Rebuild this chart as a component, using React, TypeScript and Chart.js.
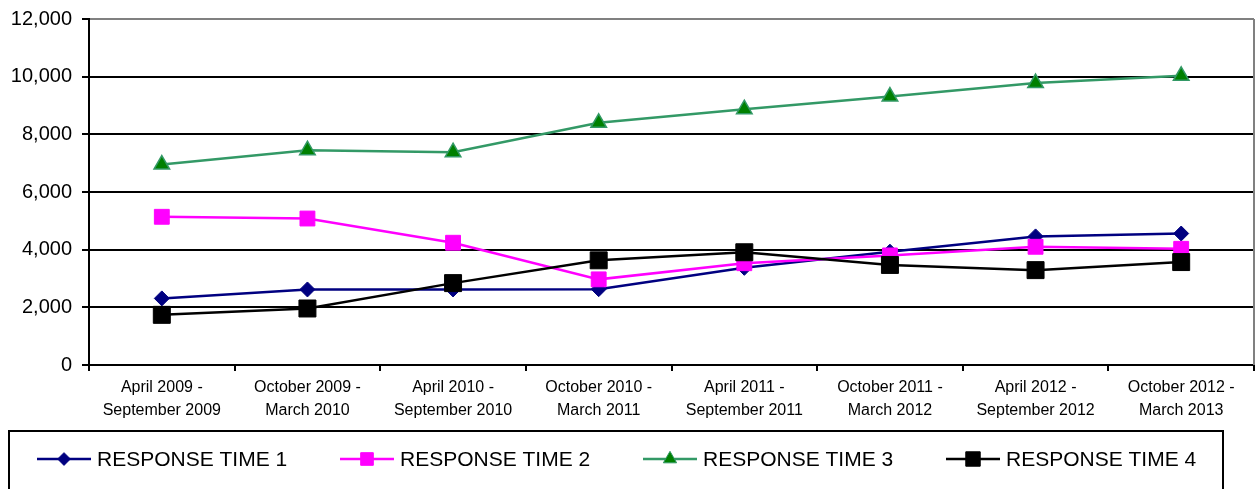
import React, { useEffect, useRef } from "react";
import { Chart, registerables } from "chart.js";

Chart.register(...registerables);

const categories: string[][] = [
  ["April 2009 -", "September 2009"],
  ["October 2009 -", "March 2010"],
  ["April 2010 -", "September 2010"],
  ["October 2010 -", "March 2011"],
  ["April 2011 -", "September 2011"],
  ["October 2011 -", "March 2012"],
  ["April 2012 -", "September 2012"],
  ["October 2012 -", "March 2013"],
];

const responseTime1 = [2310, 2620, 2620, 2630, 3370, 3930, 4460, 4560];
const responseTime2 = [5140, 5080, 4240, 2970, 3530, 3800, 4100, 4030];
const responseTime3 = [6950, 7450, 7380, 8400, 8870, 9310, 9780, 10030];
const responseTime4 = [1740, 1960, 2840, 3630, 3910, 3470, 3290, 3570];

const seriesNames = ["RESPONSE TIME 1", "RESPONSE TIME 2", "RESPONSE TIME 3", "RESPONSE TIME 4"];

const FONT = "'Liberation Sans', Arial, sans-serif";

function drawMarker(ctx: CanvasRenderingContext2D, style: string, x: number, y: number, r: number, fill: string, stroke: string) {
  ctx.save();
  ctx.fillStyle = fill;
  ctx.strokeStyle = stroke;
  ctx.lineWidth = 1;
  ctx.beginPath();
  if (style === "rectRot") {
    ctx.moveTo(x - r, y);
    ctx.lineTo(x, y - r);
    ctx.lineTo(x + r, y);
    ctx.lineTo(x, y + r);
    ctx.closePath();
  } else if (style === "rect") {
    const s = r * Math.SQRT1_2;
    ctx.rect(x - s, y - s, 2 * s, 2 * s);
  } else if (style === "triangle") {
    const a = (2 * Math.PI) / 3;
    ctx.moveTo(x, y - r);
    ctx.lineTo(x + Math.sin(a) * r, y - Math.cos(a) * r);
    ctx.lineTo(x + Math.sin(2 * a) * r, y - Math.cos(2 * a) * r);
    ctx.closePath();
  }
  ctx.fill();
  ctx.stroke();
  ctx.restore();
}

const framePlugin = {
  id: "frameAndLegend",
  afterDraw(chart: any) {
    const ctx: CanvasRenderingContext2D = chart.ctx;
    const area = chart.chartArea;
    ctx.save();
    // right border of plot area
    ctx.strokeStyle = "#808080";
    ctx.lineWidth = 2;
    ctx.beginPath();
    ctx.moveTo(area.right, area.top);
    ctx.lineTo(area.right, area.bottom);
    ctx.stroke();

    // legend box
    ctx.strokeStyle = "#000000";
    ctx.lineWidth = 2;
    ctx.strokeRect(9, 431, 1214, 90);

    const startX = 37;
    const step = 303;
    const cy = 459;
    chart.data.datasets.forEach((ds: any, i: number) => {
      const x0 = startX + i * step;
      ctx.strokeStyle = ds.borderColor;
      ctx.lineWidth = ds.borderWidth;
      ctx.beginPath();
      ctx.moveTo(x0, cy);
      ctx.lineTo(x0 + 54, cy);
      ctx.stroke();
      drawMarker(ctx, ds.pointStyle, x0 + 27, cy, ds.pointRadius * 0.85, ds.pointBackgroundColor, ds.pointBorderColor);
      ctx.fillStyle = "#000000";
      ctx.font = `21px ${FONT}`;
      ctx.textBaseline = "middle";
      ctx.textAlign = "left";
      ctx.fillText(ds.label, x0 + 60, cy + 1);
    });
    ctx.restore();
  },
};

export default function App() {
  const canvasRef = useRef<HTMLCanvasElement | null>(null);

  useEffect(() => {
    document.body.style.margin = "0";
    const canvas = canvasRef.current;
    if (!canvas) return;
    const chart = new Chart(canvas, {
      type: "line",
      data: {
        labels: categories,
        datasets: [
          {
            label: seriesNames[0],
            data: responseTime1,
            borderColor: "#000080",
            backgroundColor: "#000080",
            borderWidth: 2.5,
            pointStyle: "rectRot",
            pointRadius: 7.5,
            pointBackgroundColor: "#000080",
            pointBorderColor: "#000080",
            pointBorderWidth: 1,
            order: 4,
            clip: false,
          },
          {
            label: seriesNames[1],
            data: responseTime2,
            borderColor: "#FF00FF",
            backgroundColor: "#FF00FF",
            borderWidth: 2.5,
            pointStyle: "rect",
            pointRadius: 10.5,
            pointBackgroundColor: "#FF00FF",
            pointBorderColor: "#FF00FF",
            pointBorderWidth: 1,
            order: 3,
            clip: false,
          },
          {
            label: seriesNames[2],
            data: responseTime3,
            borderColor: "#339966",
            backgroundColor: "#008000",
            borderWidth: 2.5,
            pointStyle: "triangle",
            pointRadius: 9,
            pointBackgroundColor: "#008000",
            pointBorderColor: "#339966",
            pointBorderWidth: 1.5,
            order: 2,
            clip: false,
          },
          {
            label: seriesNames[3],
            data: responseTime4,
            borderColor: "#000000",
            backgroundColor: "#000000",
            borderWidth: 2.5,
            pointStyle: "rect",
            pointRadius: 12,
            pointBackgroundColor: "#000000",
            pointBorderColor: "#000000",
            pointBorderWidth: 1,
            order: 1,
            clip: false,
          },
        ],
      },
      options: {
        animation: false,
        responsive: false,
        maintainAspectRatio: false,
        layout: { autoPadding: false, padding: { top: 19, right: 2, bottom: 64, left: 0 } },
        plugins: {
          legend: { display: false },
          tooltip: { enabled: false },
        },
        elements: { line: { tension: 0 } },
        scales: {
          x: {
            offset: true,
            afterFit: (s: any) => {
              s.height = 60;
              s.paddingLeft = 0;
              s.paddingRight = 0;
            },
            grid: {
              offset: true,
              drawOnChartArea: false,
              drawTicks: true,
              tickLength: 6,
              color: "#000000",
              lineWidth: 2,
            },
            border: { color: "#000000", width: 2 },
            ticks: {
              color: "#000000",
              font: { family: FONT, size: 16, lineHeight: 1.38 },
              maxRotation: 0,
              autoSkip: false,
              padding: 6,
            },
          },
          y: {
            min: 0,
            max: 12000,
            afterFit: (s: any) => {
              s.width = 89;
              s.paddingTop = 0;
              s.paddingBottom = 0;
            },
            grid: {
              color: (c: any) => (c.tick && c.tick.value === 12000 ? "#808080" : "#000000"),
              tickColor: "#000000",
              lineWidth: 2,
              drawTicks: true,
              tickLength: 7,
            },
            border: { color: "#000000", width: 2 },
            ticks: {
              stepSize: 2000,
              color: "#000000",
              font: { family: FONT, size: 20 },
              padding: 10,
              callback: (v: any) => Number(v).toLocaleString("en-US"),
            },
          },
        },
      },
      plugins: [framePlugin],
    });
    return () => chart.destroy();
  }, []);

  return (
    <div style={{ position: "fixed", left: 0, top: 0, width: 1256, height: 489, background: "#fff" }}>
      <canvas ref={canvasRef} width={1256} height={489} style={{ width: 1256, height: 489 }} />
    </div>
  );
}
